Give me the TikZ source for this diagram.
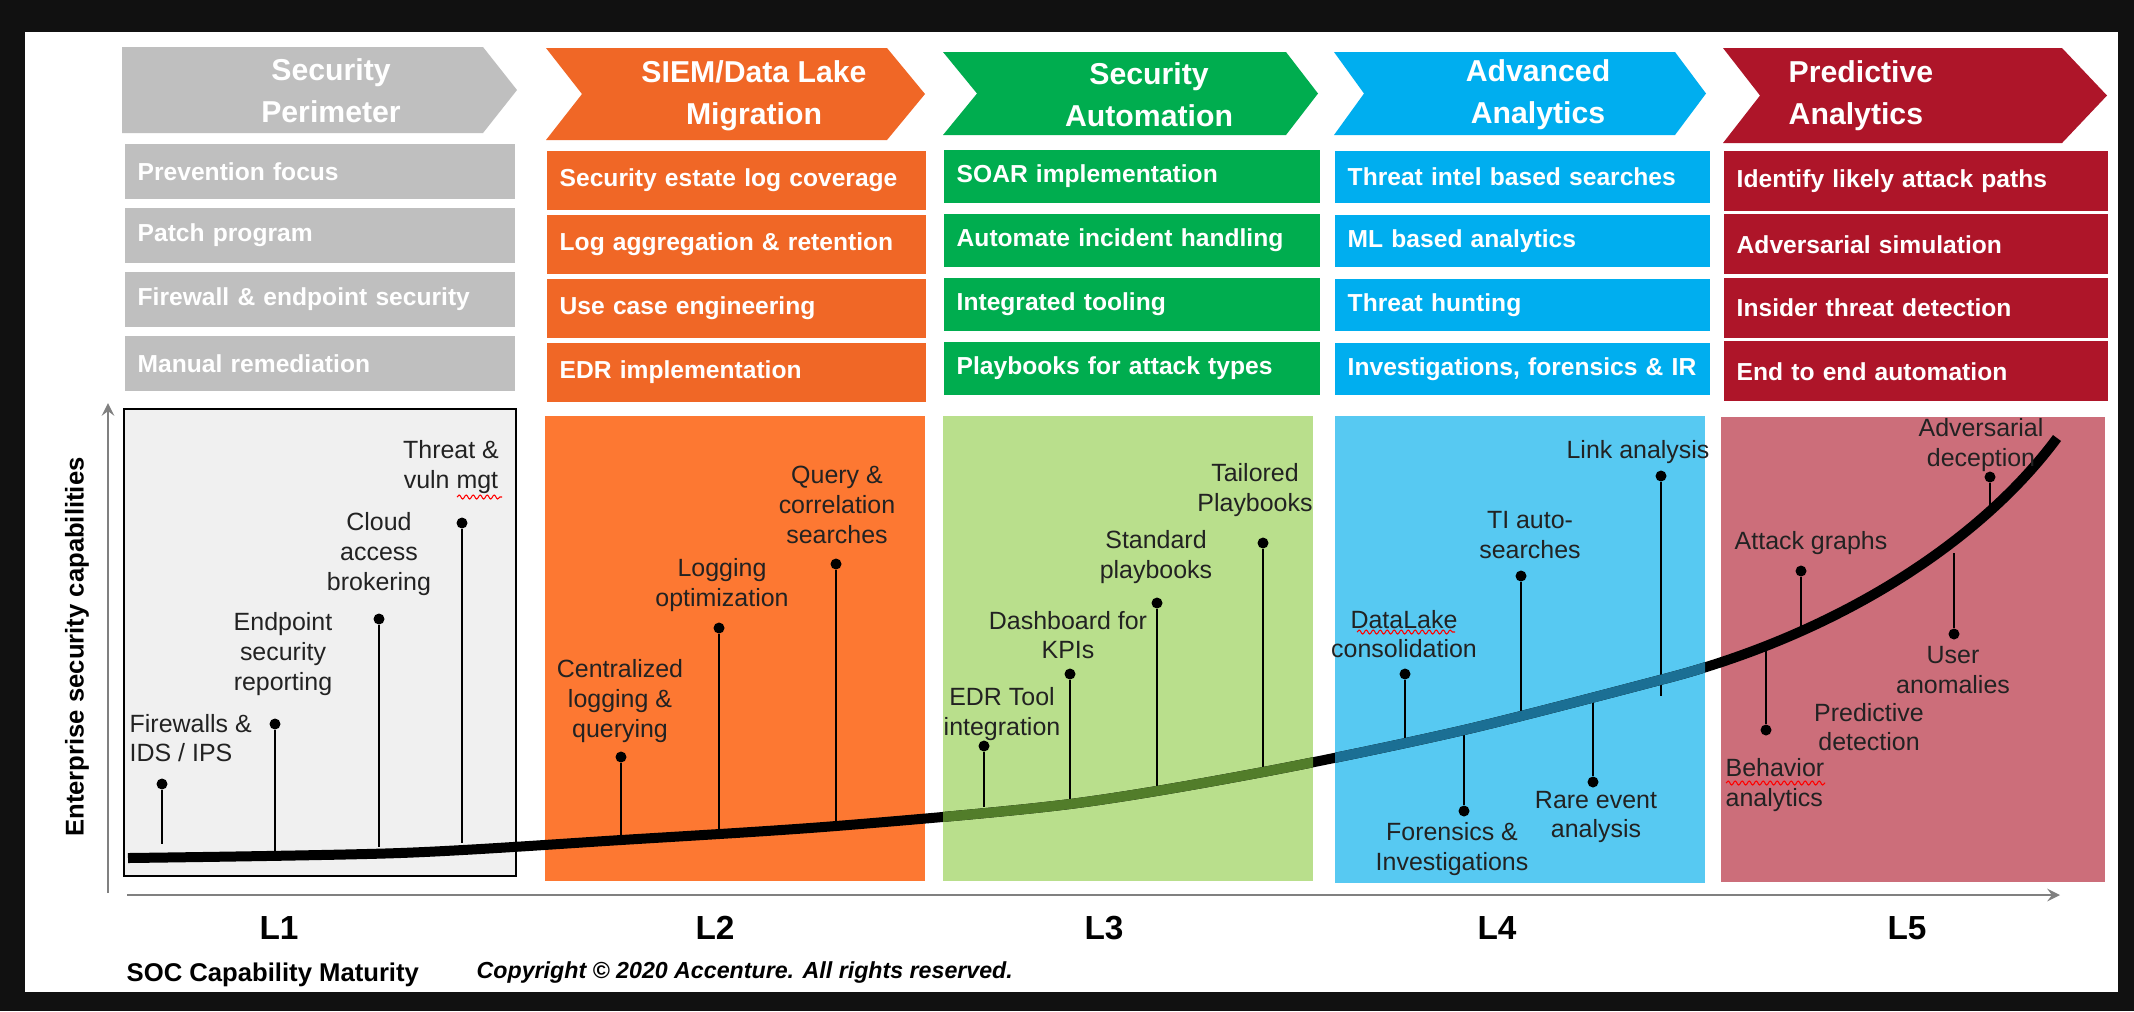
\documentclass[tikz,border=0pt]{standalone}
\usepackage{fontspec}
\setmainfont{Liberation Sans}
\usetikzlibrary{decorations.pathmorphing}

\definecolor{framebk}{HTML}{111111}
\definecolor{perimgray}{HTML}{BFBFBF}
\definecolor{siemorange}{HTML}{F06726}
\definecolor{autogreen}{HTML}{00AD4F}
\definecolor{anablue}{HTML}{00AEEF}
\definecolor{predred}{HTML}{AE1529}
\definecolor{panelgray}{HTML}{F0F0F0}
\definecolor{panelorange}{HTML}{FD7832}
\definecolor{panelgreen}{HTML}{B9DF8C}
\definecolor{panelblue}{HTML}{57C9F2}
\definecolor{panelred}{HTML}{CC6E7A}
\definecolor{curvegreen}{HTML}{527D2A}
\definecolor{curveblue}{HTML}{1B6F94}
\definecolor{axisgray}{HTML}{808080}
\definecolor{inkgray}{HTML}{222222}

\tikzset{
  head/.style={text=white, font=\fontsize{8.6}{12}\selectfont\bfseries, align=center, inner sep=0pt},
  item/.style={fill=#1, text=white, anchor=north west, inner xsep=1.3mm, inner ysep=0pt,
    align=left, font=\fontsize{7}{8}\selectfont\bfseries},
  tag/.style={text=inkgray, font=\fontsize{7.1}{8.5}\selectfont, align=center, inner sep=0pt},
  knob/.style={circle, fill=black, inner sep=0pt, minimum size=1.1mm},
  stem/.style={line width=0.6pt},
  growth/.style={line width=1mm},
  axisline/.style={draw=axisgray, line width=0.6pt, -stealth},
  lvlmark/.style={font=\fontsize{9.5}{11}\selectfont\bfseries},
  squiggle/.style={draw=red, line width=0.3pt, decorate,
    decoration={snake, amplitude=0.2mm, segment length=0.7mm}}
}

\newcommand{\growthcurve}{plot[smooth, tension=0.5] coordinates {(128,858) (400,853) (621,840)
  (836,826) (1070,804) (1263,772) (1464,730) (1660,680)}
  .. controls (1830,637) and (1977,546) .. (2057,438)}

\begin{document}
\begin{tikzpicture}[x=0.1mm, y=-0.1mm]
\fill[framebk] (0,0) rectangle (2134,1011);
\fill[white] (25,32) rectangle (2118,992);

\foreach \xa/\xb/\ya/\yb/\n/\d/\c in {122/517/47/133/0/34/perimgray, 546/925/48/140/36/38/siemorange,
    943/1318/52/135/34/32/autogreen, 1334/1706/52/135/30/31/anablue, 1723/2107/48/143/37/45/predred}
  \fill[\c] (\xa,\ya) -- (\xb-\d,\ya) -- (\xb,{(\ya+\yb)/2}) -- (\xb-\d,\yb) -- (\xa,\yb)
    -- (\xa+\n,{(\ya+\yb)/2}) -- cycle;
\node[head] (perimhead) at (331,91) {Security\\Perimeter};
\node[head] (siemhead) at (754,96) {SIEM/Data Lake\\Migration};
\node[head] (autohead) at (1149,95) {Security\\Automation};
\node[head] (anahead) at (1538,95) {Advanced\\Analytics};
\node[head, anchor=west, align=left] (predhead) at (1788,96) {Predictive\\Analytics};

\foreach \s [count=\row from 0] in {Prevention focus, Patch program, Firewall \& endpoint security, Manual remediation}
  \node[item=perimgray, text width=36.4mm, minimum height=5.5mm] (perim\row) at (124,{143+64*\row}) {\s};
\foreach \s [count=\row from 0] in {Security estate log coverage, Log aggregation \& retention, Use case engineering, EDR implementation}
  \node[item=siemorange, text width=35.3mm, minimum height=5.9mm] (siem\row) at (546,{150+64*\row}) {\s};
\foreach \s [count=\row from 0] in {SOAR implementation, Automate incident handling, Integrated tooling, Playbooks for attack types}
  \node[item=autogreen, text width=35mm, minimum height=5.3mm] (auto\row) at (943,{149+64*\row}) {\s};
\foreach \s [count=\row from 0] in {Threat intel based searches, ML based analytics, Threat hunting, {Investigations, forensics \& IR}}
  \node[item=anablue, text width=34.9mm, minimum height=5.2mm] (ana\row) at (1334,{150+64*\row}) {\s};
\foreach \s [count=\row from 0] in {Identify likely attack paths, Adversarial simulation, Insider threat detection, End to end automation}
  \node[item=predred, text width=35.8mm, minimum height=6mm] (pred\row) at (1723,{150+63.5*\row}) {\s};

\filldraw[fill=panelgray, draw=black, line width=0.5pt] (124,409) rectangle (516,876);
\fill[panelorange] (545,416) rectangle (925,881);
\fill[panelgreen] (943,416) rectangle (1313,881);
\fill[panelblue] (1335,416) rectangle (1705,883);
\fill[panelred] (1721,417) rectangle (2105,882);

\coordinate (yfoot) at (108,893);
\coordinate (ytip) at (108,403);
\coordinate (xfoot) at (127,895);
\coordinate (xtip) at (2060,895);
\draw[axisline] (yfoot) -- (ytip);
\draw[axisline] (xfoot) -- (xtip);

\foreach \n/\x/\ya/\yb in {fw/162/784/844, ep/275/724/853, cl/379/619/847, th/462/523/843,
    cen/621/757/837, lo/719/628/832, qu/836/564/823, edr/984/746/807, da/1070/674/805,
    st/1157/603/787, ta/1263/543/772, dl/1405/674/740, fo/1464/811/728, ti/1521/576/712,
    ra/1593/782/698, li/1661/476/696, at/1801/571/630, be/1766/730/648, us/1954/634/553, ad/1990/477/514}
{
  \node[knob] (\n) at (\x,\ya) {};
  \coordinate (\n-foot) at (\x,\yb);
  \draw[stem] (\n) -- (\n-foot);
}

\draw[growth] \growthcurve;
\begin{scope}
  \clip (943,416) rectangle (1313,881);
  \draw[growth, curvegreen] \growthcurve;
\end{scope}
\begin{scope}
  \clip (1335,416) rectangle (1705,883);
  \draw[growth, curveblue] \growthcurve;
\end{scope}

\foreach \n/\x/\y/\txt in {ep/283/654/{Endpoint\\security\\reporting}, cl/379/554/{Cloud\\access\\brokering},
    th/451/467/{Threat \&\\vuln mgt}, cen/620/701/{Centralized\\logging \&\\querying},
    lo/722/585/{Logging\\optimization}, qu/837/505/{Query \&\\correlation\\searches},
    edr/1002/714/{EDR Tool\\integration}, da/1068/635/{Dashboard for\\KPIs},
    st/1156/557/{Standard\\playbooks}, ta/1255/490/{Tailored\\Playbooks},
    dl/1404/634/{DataLake\\consolidation}, fo/1452/849/{Forensics \&\\Investigations},
    ti/1530/535/{TI auto-\\searches}, ra/1596/817/{Rare event\\analysis}, li/1638/452/{Link analysis},
    ad/1981/445/{Adversarial\\deception}, at/1811/543/{Attack graphs}, us/1953/670/{User\\anomalies},
    pd/1869/727/{Predictive\\detection}}
  \node[tag] (\n-tag) at (\x,\y) {\txt};
\node[tag, anchor=west, align=left] (fw-tag) at (129,738) {Firewalls \&\\IDS / IPS};
\node[tag, anchor=west, align=left] (be-tag) at (1725,785) {Behavior\\analytics};

\draw[squiggle] (457,497) -- (502,497);
\draw[squiggle] (1357,632) -- (1455,632);
\draw[squiggle] (1726,783) -- (1825,783);

\node[rotate=90, font=\fontsize{7.3}{8}\selectfont\bfseries] (ylabel) at (77,647) {Enterprise security capabilities};
\foreach \l/\x in {1/279, 2/715, 3/1104, 4/1497, 5/1907}
  \node[lvlmark] (lvl\l) at (\x,928) {L\l};
\node[anchor=west, inner sep=0pt, font=\fontsize{7.3}{8}\selectfont\bfseries] (maturity) at (126,975) {SOC Capability Maturity};
\node[anchor=west, inner sep=0pt, font=\fontsize{6.6}{8}\selectfont\bfseries\itshape] (copyright) at (476,972)
  {Copyright © 2020 Accenture. All rights reserved.};
\end{tikzpicture}
\end{document}
